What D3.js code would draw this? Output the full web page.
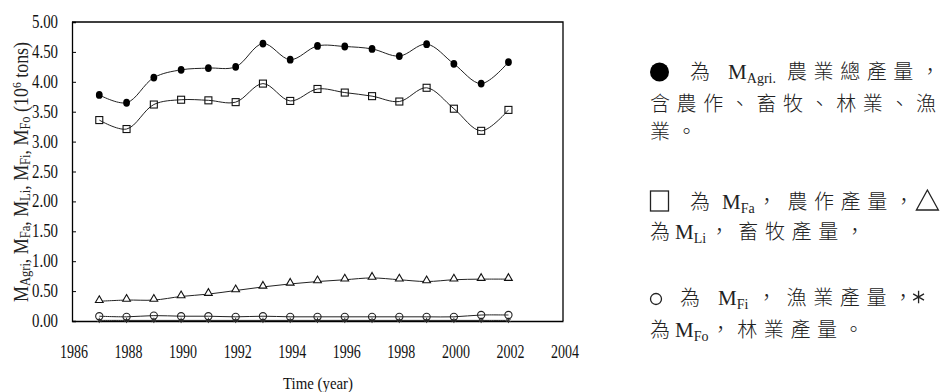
<!DOCTYPE html>
<html>
<head>
<meta charset="utf-8">
<script src="https://cdn.jsdelivr.net/npm/d3@7"></script>
<style>
  body { margin: 0; background: #fff; }
  svg { display: block; }
</style>
</head>
<body>
<svg id="chart" width="941" height="392"></svg>
<script>
// data (10^6 tons)
const years = [1987, 1988, 1989, 1990, 1991, 1992, 1993, 1994, 1995, 1996, 1997, 1998, 1999, 2000, 2001, 2002];
const agri = [3.78, 3.65, 4.07, 4.20, 4.23, 4.25, 4.64, 4.37, 4.60, 4.59, 4.55, 4.43, 4.63, 4.30, 3.97, 4.33];
const farm = [3.36, 3.21, 3.62, 3.70, 3.69, 3.66, 3.97, 3.68, 3.88, 3.82, 3.76, 3.67, 3.90, 3.55, 3.18, 3.53];
const live = [0.33, 0.35, 0.35, 0.41, 0.45, 0.51, 0.57, 0.62, 0.66, 0.69, 0.72, 0.69, 0.66, 0.69, 0.70, 0.70];
const fish = [0.08, 0.07, 0.09, 0.08, 0.08, 0.07, 0.08, 0.07, 0.07, 0.07, 0.07, 0.07, 0.07, 0.07, 0.10, 0.10];
const forest = [0.01, 0.01, 0.01, 0.01, 0.01, 0.01, 0.01, 0.01, 0.01, 0.01, 0.01, 0.01, 0.01, 0.01, 0.01, 0.01];
const yTicks = [0, 0.5, 1, 1.5, 2, 2.5, 3, 3.5, 4, 4.5, 5];
const xTicks = [1986, 1988, 1990, 1992, 1994, 1996, 1998, 2000, 2002, 2004];

// legend lines: sym = drawn marker, M = M with subscript, plain string = CJK chars, number = extra gap
const legendLines = [
  [["sym", "dot"], 21, "為", 11.5, ["M", "Agri."], 11, "農業總產量，"],
  ["含農作、畜牧、林業、漁"],
  ["業。"],
  [["sym", "square"], 21, "為", 5.5, ["M", "Fa"], 2, "，", 4, "農作產量，", -4, ["sym", "tri"]],
  ["為", -1.5, ["M", "Li"], 3, "，", 2.5, "畜牧產量，"],
  [["sym", "ring"], 18, "為", 11.5, ["M", "Fi"], 8, "，", 3.5, "漁業產量，", -10, ["sym", "star"]],
  ["為", -1.5, ["M", "Fo"], 2, "，林業產量。"]
];
const legendBaselines = [79, 111, 139, 209, 239, 305, 337];

const svg = d3.select("#chart");
const serif = "'Liberation Serif', 'Times New Roman', serif";
const cjk = "'Noto Sans CJK TC', 'Noto Sans CJK SC', sans-serif";

const x = d3.scaleLinear().domain([1986, 2004]).range([72, 563]);
const y = d3.scaleLinear().domain([0, 5]).range([321, 22]);

// frame (top and right)
svg.append("path")
  .attr("d", `M${x(1986)},${y(5)}H${x(2004)}V${y(0)}`)
  .attr("fill", "none").attr("stroke", "#000").attr("stroke-width", 1.3);

// y axis, ticks pointing inward
const yAxis = svg.append("g")
  .attr("transform", `translate(${x(1986)},0)`)
  .call(d3.axisRight(y).tickValues(yTicks).tickSize(4).tickFormat(""));
yAxis.select(".domain").attr("stroke-width", 1.3);

svg.append("g").selectAll("text")
  .data(yTicks).join("text")
  .attr("x", 32).attr("y", (d) => y(d) + 6)
  .attr("font-family", serif).attr("font-size", 18)
  .attr("textLength", 26).attr("lengthAdjust", "spacingAndGlyphs")
  .attr("fill", "#111")
  .text((d) => d.toFixed(2));

// x axis, no ticks
const xAxis = svg.append("g")
  .attr("transform", `translate(0,${y(0)})`)
  .call(d3.axisBottom(x).tickValues(xTicks).tickSize(0).tickFormat(""));
xAxis.select(".domain").attr("stroke-width", 1.3);

svg.append("g").selectAll("text")
  .data(xTicks).join("text")
  .attr("x", (d) => x(d) - 12).attr("y", 358)
  .attr("font-family", serif).attr("font-size", 18)
  .attr("textLength", 28).attr("lengthAdjust", "spacingAndGlyphs")
  .attr("fill", "#111")
  .text((d) => d);

svg.append("text")
  .attr("x", 283).attr("y", 389)
  .attr("font-family", serif).attr("font-size", 16)
  .attr("textLength", 70).attr("lengthAdjust", "spacingAndGlyphs")
  .attr("fill", "#111")
  .text("Time (year)");

// y axis title with subscripts, condensed like the original
const yt = svg.append("text")
  .attr("transform", "translate(28,172) rotate(-90)")
  .attr("text-anchor", "middle")
  .attr("font-family", serif).attr("font-size", 20)
  .attr("textLength", 260).attr("lengthAdjust", "spacingAndGlyphs")
  .attr("fill", "#222");
const parts = [["M", "Agri", ", "], ["M", "Fa", ", "], ["M", "Li", ", "], ["M", "Fi", ",  "], ["M", "Fo", " (10"]];
parts.forEach(([a, sub, rest]) => {
  yt.append("tspan").text(a);
  yt.append("tspan").attr("font-size", 14).attr("dy", 2).text(sub);
  yt.append("tspan").attr("dy", -2).text(rest);
});
yt.append("tspan").attr("font-size", 13).attr("dy", -7).text("6");
yt.append("tspan").attr("dy", 7).text(" tons)");

// series
const line = d3.line()
  .x((d, i) => x(years[i]))
  .y((d) => y(d))
  .curve(d3.curveCatmullRom.alpha(0.5));

[forest, fish, live, farm, agri].forEach((s) => {
  svg.append("path")
    .attr("d", line(s))
    .attr("fill", "none").attr("stroke", "#222").attr("stroke-width", 1);
});

// forest: asterisks
svg.append("g").selectAll("path")
  .data(forest).join("path")
  .attr("transform", (d, i) => `translate(${x(years[i])},${y(d)})`)
  .attr("d", d3.symbol(d3.symbolAsterisk, 20))
  .attr("fill", "none").attr("stroke", "#333").attr("stroke-width", 1);

// fish: open circles
svg.append("g").selectAll("circle")
  .data(fish).join("circle")
  .attr("cx", (d, i) => x(years[i])).attr("cy", (d) => y(d))
  .attr("r", 3.6)
  .attr("fill", "none").attr("stroke", "#222").attr("stroke-width", 1.1);

// livestock: open triangles
svg.append("g").selectAll("path")
  .data(live).join("path")
  .attr("transform", (d, i) => `translate(${x(years[i])},${y(d) - 1})`)
  .attr("d", d3.symbol(d3.symbolTriangle, 26))
  .attr("fill", "#fff").attr("stroke", "#111").attr("stroke-width", 1.1);

// farm crops: open squares
svg.append("g").selectAll("rect")
  .data(farm).join("rect")
  .attr("x", (d, i) => x(years[i]) - 3.5).attr("y", (d) => y(d) - 3.5)
  .attr("width", 7).attr("height", 7)
  .attr("fill", "none").attr("stroke", "#111").attr("stroke-width", 1.1);

// agriculture total: filled circles
svg.append("g").selectAll("ellipse")
  .data(agri).join("ellipse")
  .attr("cx", (d, i) => x(years[i])).attr("cy", (d) => y(d))
  .attr("rx", 3.4).attr("ry", 3.9)
  .attr("fill", "#000");

// legend text on the right, laid out token by token
const pitch = 26.6;
const legend = svg.append("g").attr("fill", "#222");

function drawSym(kind, cx, base) {
  if (kind === "dot") {
    legend.append("circle").attr("cx", cx + 9.5).attr("cy", base - 7).attr("r", 9.5).attr("fill", "#000");
    return 19;
  }
  if (kind === "square") {
    legend.append("rect").attr("x", cx + 0.5).attr("y", base - 18).attr("width", 18).attr("height", 20)
      .attr("fill", "none").attr("stroke", "#222").attr("stroke-width", 1.3);
    return 19;
  }
  if (kind === "tri") {
    legend.append("path").attr("d", `M${cx + 11},${base - 19}L${cx + 22},${base + 1}L${cx},${base + 1}Z`)
      .attr("fill", "none").attr("stroke", "#222").attr("stroke-width", 1.3);
    return 22;
  }
  if (kind === "ring") {
    legend.append("circle").attr("cx", cx + 6).attr("cy", base - 6).attr("r", 5.5)
      .attr("fill", "none").attr("stroke", "#222").attr("stroke-width", 1.3);
    return 12;
  }
  legend.append("path").attr("transform", `translate(${cx + 9},${base - 8})`)
    .attr("d", d3.symbol(d3.symbolAsterisk, 110))
    .attr("fill", "none").attr("stroke", "#222").attr("stroke-width", 1.3);
  return 18;
}

legendLines.forEach((tokens, li) => {
  const base = legendBaselines[li];
  let cx = 650;
  tokens.forEach((tok) => {
    if (typeof tok === "number") {
      cx += tok;
    } else if (typeof tok === "string") {
      Array.from(tok).forEach((ch) => {
        legend.append("text")
          .attr("x", cx).attr("y", base)
          .attr("font-family", cjk).attr("font-size", 20).attr("font-weight", 300)
          .text(ch);
        cx += pitch;
      });
    } else if (tok[0] === "sym") {
      cx += drawSym(tok[1], cx, base);
    } else {
      const t = legend.append("text")
        .attr("x", cx).attr("y", base)
        .attr("font-family", serif).attr("font-size", 21);
      t.append("tspan").text("M");
      t.append("tspan").attr("font-size", 14).attr("dy", 4).text(tok[1]);
      cx += t.node().getComputedTextLength();
    }
  });
});
</script>
</body>
</html>
